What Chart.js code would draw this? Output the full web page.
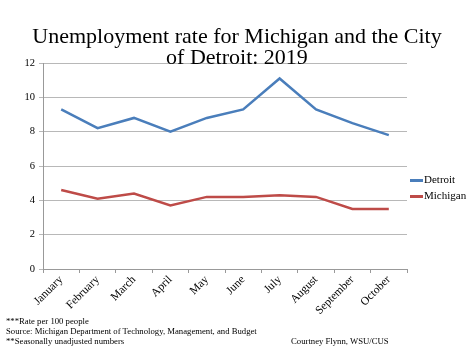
<!DOCTYPE html>
<html><head><meta charset="utf-8">
<script src="https://cdn.jsdelivr.net/npm/chart.js@4"></script>
<style>
html,body{margin:0;padding:0;background:#fff;}
#wrap{position:relative;width:474px;height:355px;overflow:hidden;}
canvas{position:absolute;left:0;top:0;}
.t{position:absolute;font-family:"Liberation Serif","Times New Roman",serif;color:#000;white-space:nowrap;}
#title{left:0;width:474px;top:25px;text-align:center;font-size:22px;line-height:21px;}
.lg{position:absolute;font-family:"Liberation Serif",serif;font-size:11px;color:#000;}
.lg span{display:inline-block;width:13px;height:2.5px;vertical-align:middle;margin-right:1px;}
.fn{font-size:8.7px;line-height:10px;}
</style></head>
<body><div id="wrap"><canvas id="c" width="474" height="355"></canvas>
<div id="title" class="t">Unemployment rate for Michigan and the City<br>of Detroit: 2019</div>
<div id="legend"></div>
<div class="t fn" style="left:6px;top:316px;">***Rate per 100 people<br>Source: Michigan Department of Technology, Management, and Budget<br>**Seasonally unadjusted numbers</div>
<div class="t fn" style="left:291px;top:336px;">Courtney Flynn, WSU/CUS</div>
</div>
<script>
const months = ["January","February","March","April","May","June","July","August","September","October"];
const seriesNames = ["Detroit","Michigan"];
const detroit = [9.3, 8.2, 8.8, 8.0, 8.8, 9.3, 11.1, 9.3, 8.5, 7.8];
const michigan = [4.6, 4.1, 4.4, 3.7, 4.2, 4.2, 4.3, 4.2, 3.5, 3.5];
const yTicks = [0, 2, 4, 6, 8, 10, 12];
const colors = ["#4a7ebb", "#be4b48"];

const fontFam = '"Liberation Serif","Times New Roman",serif';
new Chart(document.getElementById('c'), {
  type: 'line',
  data: {
    labels: months,
    datasets: [
      {label: seriesNames[0], data: detroit, borderColor: colors[0], borderWidth: 2.5, pointRadius: 0, tension: 0, fill: false},
      {label: seriesNames[1], data: michigan, borderColor: colors[1], borderWidth: 2.5, pointRadius: 0, tension: 0, fill: false}
    ]
  },
  options: {
    responsive: false, animation: false,
    layout: {padding: {left: 0, top: 63, right: 67, bottom: 0}},
    plugins: {legend: {display: false}, title: {display: false}, tooltip: {enabled: false}},
    scales: {
      x: {
        offset: true,
        grid: {display: true, offset: true, drawOnChartArea: false, drawTicks: true, tickLength: 4, color: '#999'},
        border: {color: '#999'},
        ticks: {minRotation: 45, maxRotation: 45, color: '#000', font: {family: fontFam, size: 11.5}, padding: 0},
        afterFit: s => { s.height = 355 - 269; }
      },
      y: {
        min: 0, max: 12,
        afterBuildTicks: s => { s.ticks = yTicks.map(v => ({value: v})); },
        grid: {color: '#b8b8b8', lineWidth: 1, tickLength: 4},
        border: {color: '#999'},
        ticks: {color: '#000', font: {family: fontFam, size: 10.5}, padding: 4},
        afterFit: s => { s.width = 43; }
      }
    }
  }
});
const lg = document.getElementById('legend');
seriesNames.forEach((n, i) => {
  const d = document.createElement('div');
  d.className = 'lg';
  d.style.left = '410px';
  d.style.top = (173 + i * 16) + 'px';
  d.innerHTML = '<span style="background:' + colors[i] + '"></span>' + n;
  lg.appendChild(d);
});
</script>
</body></html>
